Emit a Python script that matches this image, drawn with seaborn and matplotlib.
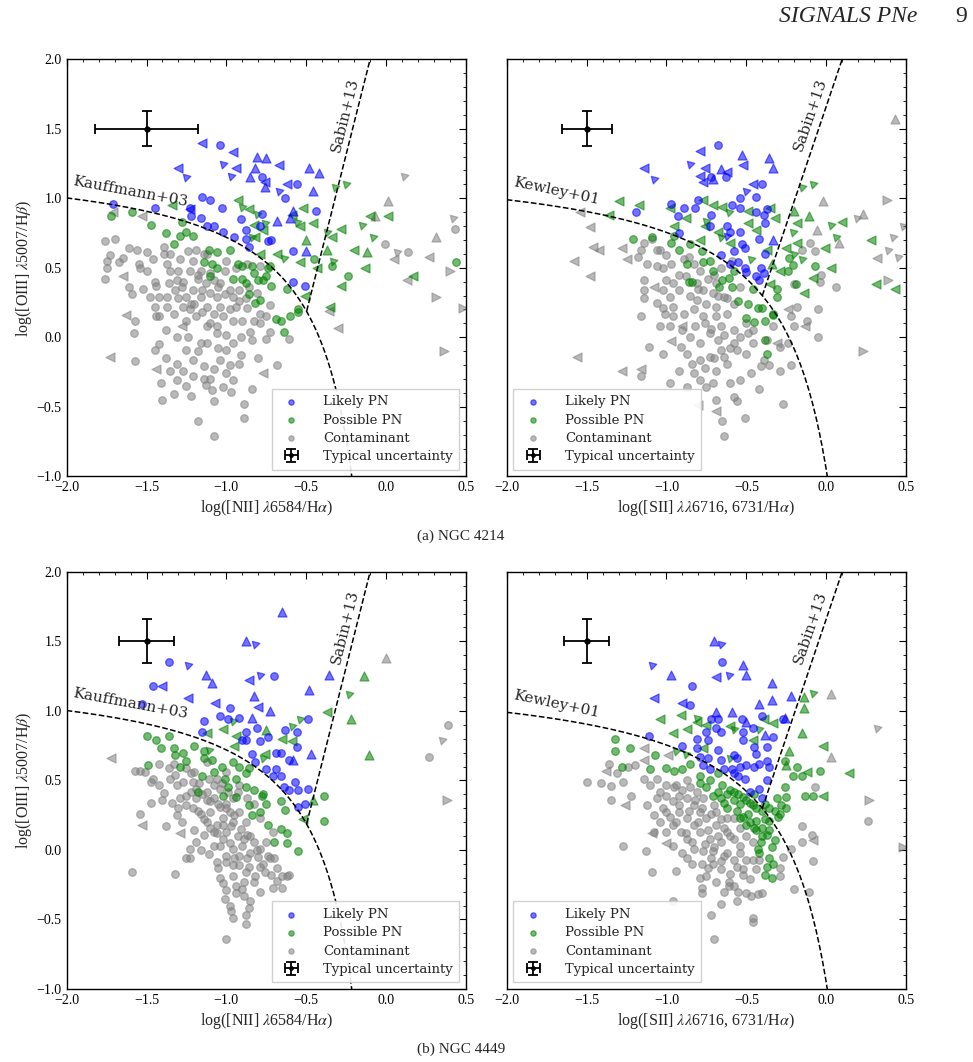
""" BPT-style diagnostic diagrams for the SIGNALS PN candidates in NGC 4214 and NGC 4449."""
import matplotlib
matplotlib.use("Agg")
import matplotlib.pyplot as plt
import numpy as np
import pandas as pd
import seaborn as sns

# ---------------------------------------------------------------------------
# data: (x, y, marker)
# marker: "o" detection, "<" / ">" / "^" limits, "ul" limit in both (up-left)
# ---------------------------------------------------------------------------

# NGC 4214, [NII] diagram
A_NII_LIKELY = [
    (-1.04, 1.38, "o"), (-0.56, 1.10, "o"), (-0.78, 1.15, "o"), (-0.63, 1.00, "o"),
    (-0.44, 0.91, "o"), (-1.71, 0.96, "o"), (-1.45, 0.93, "o"), (-1.15, 1.01, "o"),
    (-1.10, 0.99, "o"), (-1.23, 0.93, "o"), (-1.22, 0.87, "o"), (-1.16, 0.86, "o"),
    (-1.03, 0.93, "o"), (-1.12, 0.80, "o"), (-1.08, 0.80, "o"), (-1.02, 0.76, "o"),
    (-0.91, 0.85, "o"), (-0.95, 0.72, "o"), (-0.88, 0.77, "o"), (-0.88, 0.71, "o"),
    (-0.86, 0.65, "o"), (-0.79, 0.80, "o"), (-0.78, 0.89, "o"), (-0.74, 0.69, "o"),
    (-0.72, 0.70, "o"), (-0.58, 0.62, "o"), (-0.58, 0.40, "o"), (-0.51, 0.37, "o"),
    (-0.81, 1.30, "^"), (-0.75, 1.29, "^"), (-0.82, 1.22, "^"), (-0.85, 1.15, "^"),
    (-0.76, 1.08, "^"), (-0.48, 1.22, "^"), (-0.42, 1.18, "^"), (-0.46, 1.05, "^"),
    (-0.68, 0.84, "^"), (-0.58, 0.91, "^"), (-0.60, 0.86, "^"), (-0.50, 0.62, "^"),
    (-1.15, 1.40, "<"), (-0.96, 1.33, "<"), (-0.67, 1.24, "<"), (-1.30, 1.22, "<"),
    (-0.94, 1.22, "<"), (-0.62, 1.10, "<"), (-0.76, 1.12, "<"), (-1.23, 0.92, "<"),
    (-1.02, 1.25, "ul"), (-1.25, 1.15, "ul"), (-0.67, 1.05, "ul"), (-0.97, 1.16, "ul"),
]
A_NII_POSSIBLE = [
    (-1.72, 0.87, "o"), (-1.59, 0.90, "o"), (-1.47, 0.81, "o"), (-1.38, 0.75, "o"),
    (-1.33, 0.67, "o"), (-1.29, 0.73, "o"), (-1.28, 0.83, "o"), (-1.25, 0.76, "o"),
    (-1.21, 0.73, "o"), (-1.14, 0.54, "o"), (-1.11, 0.63, "o"), (-1.06, 0.61, "o"),
    (-0.98, 0.63, "o"), (-1.09, 0.53, "o"), (-1.06, 0.50, "o"), (-0.93, 0.53, "o"),
    (-1.10, 0.44, "o"), (-0.90, 0.51, "o"), (-0.84, 0.51, "o"), (-0.96, 0.42, "o"),
    (-0.90, 0.42, "o"), (-0.88, 0.39, "o"), (-0.83, 0.46, "o"), (-0.80, 0.41, "o"),
    (-0.77, 0.41, "o"), (-0.75, 0.44, "o"), (-0.73, 0.51, "o"), (-0.86, 0.31, "o"),
    (-0.82, 0.25, "o"), (-0.79, 0.27, "o"), (-0.72, 0.37, "o"), (-0.62, 0.35, "o"),
    (-0.69, 0.13, "o"), (-0.66, 0.12, "o"), (-0.60, 0.15, "o"), (-0.55, 0.18, "o"),
    (-0.55, 0.20, "o"), (-0.64, 0.04, "o"), (-0.34, 0.51, "o"), (-0.24, 0.44, "o"),
    (0.44, 0.54, "o"), (-0.74, 0.50, "o"), (-0.45, 0.56, "o"),
    (-0.93, 0.99, "<"), (-0.86, 0.92, "<"), (-0.52, 0.93, "<"), (-0.46, 0.82, "<"),
    (-0.83, 0.81, "<"), (-0.77, 0.77, "<"), (-0.54, 0.80, "<"), (-0.28, 0.78, "<"),
    (-0.10, 0.87, "<"), (0.01, 0.87, "<"), (-0.20, 0.63, "<"), (-0.34, 0.72, "<"),
    (-0.13, 0.50, "<"), (-0.43, 0.50, "<"), (-0.54, 0.54, "<"), (-0.68, 0.60, "<"),
    (-0.28, 0.37, "<"), (0.17, 0.44, "<"), (-0.35, 0.22, "<"), (-0.51, 0.30, "<"),
    (-0.79, 0.60, "<"), (-1.34, 0.95, "<"), (-0.82, 0.72, "<"), (-0.59, 0.88, "<"),
    (-0.12, 0.61, "^"), (-0.50, 0.70, "^"), (-0.37, 0.63, "^"),
    (-0.32, 1.08, "ul"), (-0.25, 1.10, "ul"), (-0.90, 0.94, "ul"), (-0.76, 0.82, "ul"),
    (-0.56, 0.83, "ul"), (-0.37, 0.76, "ul"), (-0.15, 0.81, "ul"), (-0.08, 0.72, "ul"),
    (-0.33, 0.55, "ul"), (-0.64, 0.57, "ul"), (-0.81, 0.89, "ul"), (-0.84, 0.72, "ul"),
]
A_NII_CONTAM = [
    (-1.71, 0.90, "<"), (-1.53, 0.87, "<"), (-1.65, 0.44, "<"), (-1.63, 0.16, "<"),
    (-1.73, -0.14, "<"), (-1.44, -0.23, "<"), (-0.77, -0.26, "<"), (-1.28, 0.08, "<"),
    (-0.30, 0.07, "<"), (-0.36, 0.19, "<"), (0.05, 0.56, "<"), (0.13, 0.41, "<"),
    (0.27, 0.58, "<"),
    (0.31, 0.29, ">"), (0.36, -0.10, ">"), (0.40, 0.48, ">"), (0.48, 0.21, ">"),
    (0.01, 0.98, "^"), (0.31, 0.72, "^"), (-0.07, 0.87, "^"),
    (0.11, 1.16, "ul"), (0.42, 0.86, "ul"), (0.07, 0.61, "ul"),
    (0.43, 0.78, "o"), (-0.01, 0.67, "o"), (0.14, 0.61, "o"),
    (-1.76, 0.69, "o"), (-1.70, 0.71, "o"), (-1.73, 0.59, "o"), (-1.75, 0.55, "o"),
    (-1.76, 0.42, "o"), (-1.75, 0.50, "o"), (-1.67, 0.54, "o"), (-1.65, 0.57, "o"),
    (-1.61, 0.64, "o"), (-1.56, 0.63, "o"), (-1.50, 0.61, "o"), (-1.55, 0.53, "o"),
    (-1.54, 0.50, "o"), (-1.61, 0.36, "o"), (-1.59, 0.31, "o"), (-1.52, 0.35, "o"),
    (-1.45, 0.40, "o"), (-1.44, 0.37, "o"), (-1.42, 0.29, "o"), (-1.44, 0.15, "o"),
    (-1.57, 0.12, "o"), (-1.58, 0.03, "o"), (-1.57, -0.17, "o"), (-1.42, -0.05, "o"),
    (-1.45, -0.09, "o"), (-1.38, -0.15, "o"), (-1.41, -0.33, "o"), (-1.40, -0.45, "o"),
    (-1.33, -0.41, "o"), (-1.22, -0.42, "o"), (-1.18, -0.60, "o"), (-1.08, -0.71, "o"),
    (-1.08, -0.46, "o"), (-1.09, -0.38, "o"), (-1.02, -0.36, "o"), (-0.97, -0.39, "o"),
    (-0.89, -0.48, "o"), (-0.89, -0.58, "o"), (-0.84, -0.37, "o"), (-0.68, -0.20, "o"),
    (-0.80, -0.15, "o"), (-0.75, -0.01, "o"), (-0.73, 0.04, "o"), (-0.85, 0.04, "o"),
    (-0.90, 0.12, "o"), (-0.79, 0.10, "o"), (-0.73, 0.23, "o"), (-0.79, 0.17, "o"),
    (-0.75, 0.15, "o"), (-0.61, -0.01, "o"), (-0.87, 0.21, "o"), (-0.94, 0.22, "o"),
    (-0.96, 0.29, "o"), (-1.01, 0.31, "o"), (-0.98, 0.34, "o"), (-1.04, 0.39, "o"),
    (-1.08, 0.41, "o"), (-1.13, 0.39, "o"), (-1.18, 0.42, "o"), (-1.23, 0.48, "o"),
    (-1.27, 0.40, "o"), (-1.31, 0.41, "o"), (-1.35, 0.48, "o"), (-1.39, 0.60, "o"),
    (-1.35, 0.60, "o"), (-1.29, 0.56, "o"), (-1.24, 0.62, "o"), (-1.19, 0.63, "o"),
    (-1.14, 0.60, "o"), (-1.21, 0.55, "o"), (-1.30, 0.48, "o"), (-1.32, 0.34, "o"),
    (-1.25, 0.29, "o"), (-1.21, 0.34, "o"), (-1.16, 0.29, "o"), (-1.12, 0.22, "o"),
    (-1.08, 0.17, "o"), (-1.02, 0.15, "o"), (-0.96, 0.12, "o"), (-1.06, 0.08, "o"),
    (-1.12, 0.08, "o"), (-1.19, 0.15, "o"), (-1.23, 0.20, "o"), (-1.27, 0.22, "o"),
    (-1.33, 0.17, "o"), (-1.37, 0.22, "o"), (-1.42, 0.15, "o"), (-1.31, 0.00, "o"),
    (-1.24, 0.00, "o"), (-1.16, -0.04, "o"), (-1.12, -0.04, "o"), (-1.06, 0.03, "o"),
    (-1.00, 0.02, "o"), (-0.96, -0.04, "o"), (-1.00, -0.09, "o"), (-1.04, -0.16, "o"),
    (-1.08, -0.23, "o"), (-1.14, -0.21, "o"), (-1.21, -0.16, "o"), (-1.25, -0.09, "o"),
    (-1.31, -0.19, "o"), (-1.27, -0.24, "o"), (-1.35, -0.24, "o"), (-1.31, -0.31, "o"),
    (-1.21, -0.28, "o"), (-1.14, -0.30, "o"), (-1.00, -0.26, "o"), (-0.92, -0.19, "o"),
    (-0.91, -0.13, "o"), (-0.98, -0.20, "o"), (-0.84, -0.02, "o"), (-0.91, 0.00, "o"),
    (-0.83, 0.12, "o"), (-1.39, 0.65, "o"), (-1.46, 0.56, "o"), (-1.50, 0.48, "o"),
    (-1.37, 0.53, "o"), (-1.36, 0.39, "o"), (-1.48, 0.29, "o"), (-1.37, 0.29, "o"),
    (-0.92, 0.34, "o"), (-0.86, 0.36, "o"), (-0.81, 0.32, "o"), (-1.04, 0.22, "o"),
    (-1.10, 0.32, "o"), (-1.16, 0.48, "o"), (-1.06, 0.29, "o"), (-1.12, 0.60, "o"),
    (-1.00, 0.55, "o"), (-0.94, 0.50, "o"), (-0.87, 0.53, "o"), (-0.79, 0.51, "o"),
    (-1.01, 0.48, "o"), (-1.22, 0.24, "o"), (-1.13, -0.34, "o"), (-0.96, -0.31, "o"),
    (-1.18, 0.45, "o"), (-1.10, 0.46, "o"), (-1.05, 0.36, "o"), (-1.15, 0.34, "o"),
    (-1.20, 0.24, "o"), (-1.15, 0.18, "o"), (-1.10, 0.10, "o"), (-1.25, 0.12, "o"),
    (-1.30, 0.28, "o"), (-1.28, 0.36, "o"), (-0.98, 0.20, "o"), (-0.92, 0.26, "o"),
    (-1.18, -0.10, "o"), (-1.05, -0.08, "o"), (-1.10, -0.30, "o"), (-1.25, -0.35, "o"),
    (-1.38, 0.05, "o"), (-1.45, 0.22, "o"), (-0.88, 0.28, "o"),
]

# NGC 4214, [SII] diagram
A_SII_LIKELY = [
    (-0.68, 1.38, "o"), (-0.63, 1.15, "o"), (-0.72, 1.15, "o"), (-0.40, 1.10, "o"),
    (-0.44, 1.01, "o"), (-0.54, 1.00, "o"), (-0.54, 0.93, "o"), (-0.59, 0.95, "o"),
    (-0.80, 0.99, "o"), (-0.82, 0.93, "o"), (-0.89, 0.93, "o"), (-0.97, 0.96, "o"),
    (-0.93, 0.87, "o"), (-1.19, 0.90, "o"), (-0.72, 0.88, "o"), (-0.73, 0.80, "o"),
    (-0.62, 0.80, "o"), (-0.60, 0.76, "o"), (-0.54, 0.76, "o"), (-0.44, 0.90, "o"),
    (-0.39, 0.88, "o"), (-0.37, 0.92, "o"), (-0.38, 0.82, "o"), (-0.42, 0.71, "o"),
    (-0.38, 0.60, "o"), (-0.53, 0.67, "o"), (-0.58, 0.62, "o"), (-0.51, 0.64, "o"),
    (-0.55, 0.54, "o"), (-0.60, 0.53, "o"), (-0.66, 0.59, "o"), (-0.92, 0.75, "o"),
    (-0.51, 0.50, "o"), (-0.41, 0.50, "o"), (-0.44, 0.44, "o"), (-0.42, 0.41, "o"),
    (-0.50, 0.47, "o"), (-0.39, 0.46, "o"),
    (-0.79, 1.34, "<"), (-1.14, 1.22, "<"), (-0.76, 1.22, "<"), (-0.79, 1.16, "<"),
    (-0.52, 1.24, "<"), (-0.46, 1.10, "<"), (-0.62, 1.19, "<"), (-0.77, 1.12, "<"),
    (-0.53, 1.31, "^"), (-0.36, 1.29, "^"), (-0.33, 1.22, "^"), (-0.66, 1.21, "^"),
    (-0.71, 1.14, "^"), (-0.33, 0.70, "^"),
    (-0.85, 1.25, "ul"), (-1.08, 1.14, "ul"), (-0.50, 1.05, "ul"), (-0.62, 0.73, "ul"),
]
A_SII_POSSIBLE = [
    (-1.21, 0.71, "o"), (-1.09, 0.72, "o"), (-0.95, 0.73, "o"), (-0.97, 0.68, "o"),
    (-0.92, 0.63, "o"), (-0.85, 0.67, "o"), (-0.78, 0.62, "o"), (-0.73, 0.55, "o"),
    (-0.77, 0.54, "o"), (-0.71, 0.48, "o"), (-0.65, 0.41, "o"), (-0.59, 0.36, "o"),
    (-0.61, 0.43, "o"), (-0.67, 0.36, "o"), (-0.86, 0.40, "o"), (-0.84, 0.40, "o"),
    (-0.55, 0.26, "o"), (-0.49, 0.24, "o"), (-0.43, 0.21, "o"), (-0.40, 0.21, "o"),
    (-0.50, 0.14, "o"), (-0.45, 0.11, "o"), (-0.38, 0.12, "o"), (-0.33, 0.16, "o"),
    (-0.38, -0.02, "o"), (-0.37, -0.12, "o"), (-0.31, 0.35, "o"), (-0.31, 0.29, "o"),
    (-0.33, 0.17, "o"), (-0.24, 0.48, "o"), (-0.23, 0.57, "o"), (-0.21, 0.52, "o"),
    (-0.07, 0.51, "o"), (-0.19, 0.38, "o"), (-0.58, 0.48, "o"), (-0.46, 0.35, "o"),
    (-0.87, 0.53, "o"),
    (-1.30, 0.98, "<"), (-1.17, 0.95, "<"), (-0.98, 0.93, "<"), (-0.71, 0.95, "<"),
    (-0.65, 0.94, "<"), (-0.49, 0.91, "<"), (-0.35, 0.93, "<"), (-0.77, 0.99, "<"),
    (-0.95, 0.80, "<"), (-0.88, 0.86, "<"), (-0.76, 0.80, "<"), (-0.68, 0.76, "<"),
    (-0.49, 0.82, "<"), (-0.44, 0.77, "<"), (-0.32, 0.86, "<"), (-0.25, 0.64, "<"),
    (-0.18, 0.82, "<"), (-0.18, 0.68, "<"), (-0.01, 0.64, "<"), (-0.08, 0.43, "<"),
    (-0.14, 0.32, "<"), (0.03, 0.50, "<"), (0.10, 0.83, "<"), (0.28, 0.70, "<"),
    (0.31, 0.38, "<"), (0.43, 0.35, "<"), (-1.36, 0.88, "<"), (-0.79, 0.70, "<"),
    (-0.60, 0.68, "<"), (-0.37, 0.63, "<"), (-0.29, 0.48, "<"), (-0.35, 0.38, "<"),
    (-0.20, 0.91, "^"), (-0.11, 0.87, "^"), (-0.34, 0.53, "^"),
    (-0.15, 1.08, "ul"), (-0.08, 1.10, "ul"), (0.03, 0.81, "ul"), (0.06, 0.72, "ul"),
    (-0.61, 0.90, "ul"), (-0.75, 0.84, "ul"), (-0.21, 0.76, "ul"), (-0.20, 0.60, "ul"),
    (-0.15, 0.56, "ul"), (-0.47, 0.56, "ul"), (-0.66, 0.72, "ul"),
]
A_SII_CONTAM = [
    (-1.58, 0.55, "<"), (-1.48, 0.79, "<"), (-1.48, 0.44, "<"), (-1.46, 0.65, "<"),
    (-1.42, 0.63, "<"), (-1.28, 0.64, "<"), (-1.25, 0.56, "<"), (-1.08, 0.36, "<"),
    (-1.56, -0.14, "<"), (-1.28, -0.24, "<"), (-1.16, -0.23, "<"), (-0.97, -0.03, "<"),
    (-0.90, 0.08, "<"), (-0.80, -0.49, "<"), (-0.69, -0.53, "<"), (-0.31, -0.04, "<"),
    (-0.24, 0.20, "<"), (-0.13, 0.08, "<"), (-1.54, 0.90, "<"), (0.32, 0.57, "<"),
    (-0.02, 0.98, "^"), (-0.06, 0.77, "^"), (0.08, 0.68, "^"), (0.43, 1.57, "^"),
    (0.23, 0.89, "^"),
    (0.38, 0.99, ">"), (0.39, 0.41, ">"), (0.23, -0.10, ">"),
    (0.19, 0.86, "ul"), (0.42, 0.72, "ul"), (0.39, 0.63, "ul"), (0.45, 0.58, "ul"),
    (0.48, 0.80, "ul"),
    (-1.14, 0.68, "o"), (-1.16, 0.63, "o"), (-1.12, 0.53, "o"), (-1.06, 0.51, "o"),
    (-1.14, 0.41, "o"), (-1.14, 0.34, "o"), (-1.14, 0.28, "o"), (-1.16, 0.15, "o"),
    (-1.04, 0.63, "o"), (-1.00, 0.59, "o"), (-0.97, 0.53, "o"), (-1.02, 0.50, "o"),
    (-1.00, 0.41, "o"), (-0.96, 0.39, "o"), (-1.02, 0.34, "o"), (-0.98, 0.29, "o"),
    (-0.92, 0.34, "o"), (-0.88, 0.44, "o"), (-0.83, 0.53, "o"), (-0.89, 0.56, "o"),
    (-0.79, 0.48, "o"), (-0.81, 0.39, "o"), (-0.77, 0.34, "o"), (-0.81, 0.27, "o"),
    (-0.75, 0.24, "o"), (-0.69, 0.22, "o"), (-0.71, 0.32, "o"), (-0.64, 0.29, "o"),
    (-0.58, 0.24, "o"), (-0.62, 0.17, "o"), (-0.69, 0.15, "o"), (-0.77, 0.15, "o"),
    (-0.83, 0.20, "o"), (-0.89, 0.17, "o"), (-0.96, 0.15, "o"), (-1.01, 0.17, "o"),
    (-1.02, 0.21, "o"), (-1.04, 0.08, "o"), (-0.98, 0.08, "o"), (-0.90, 0.05, "o"),
    (-0.85, 0.00, "o"), (-0.79, -0.04, "o"), (-0.73, 0.03, "o"), (-0.66, 0.08, "o"),
    (-0.58, 0.05, "o"), (-0.54, 0.00, "o"), (-0.49, 0.03, "o"), (-0.46, 0.05, "o"),
    (-0.58, -0.04, "o"), (-0.66, -0.09, "o"), (-0.73, -0.14, "o"), (-0.79, -0.16, "o"),
    (-0.84, -0.19, "o"), (-0.87, -0.12, "o"), (-0.91, -0.07, "o"), (-0.83, -0.26, "o"),
    (-0.79, -0.31, "o"), (-0.75, -0.36, "o"), (-0.69, -0.45, "o"), (-0.65, -0.60, "o"),
    (-0.64, -0.71, "o"), (-0.51, -0.58, "o"), (-0.58, -0.43, "o"), (-0.56, -0.46, "o"),
    (-0.60, -0.33, "o"), (-0.54, -0.31, "o"), (-0.47, -0.26, "o"), (-0.42, -0.37, "o"),
    (-0.41, -0.21, "o"), (-0.39, -0.16, "o"), (-0.36, -0.20, "o"), (-0.29, -0.24, "o"),
    (-0.22, -0.20, "o"), (-0.27, -0.48, "o"), (-0.98, -0.33, "o"), (-1.16, -0.28, "o"),
    (-1.11, -0.07, "o"), (-1.02, -0.12, "o"), (-0.50, -0.12, "o"), (-0.46, -0.04, "o"),
    (-0.56, -0.09, "o"), (-0.62, -0.19, "o"), (-0.69, -0.24, "o"), (-0.71, -0.33, "o"),
    (-0.37, -0.02, "o"), (-0.29, -0.07, "o"), (-0.24, -0.04, "o"), (-0.20, 0.08, "o"),
    (-0.18, 0.22, "o"), (-0.12, 0.12, "o"), (-0.05, 0.20, "o"), (-0.05, 0.00, "o"),
    (-0.20, 0.38, "o"), (-0.04, 0.40, "o"), (0.06, 0.36, "o"), (-0.03, 0.45, "o"),
    (-0.15, 0.63, "o"), (-0.07, 0.62, "o"), (-0.10, 0.68, "o"), (-0.69, 0.39, "o"),
    (-0.54, 0.36, "o"), (-0.59, 0.55, "o"), (-1.06, 0.25, "o"), (-0.96, 0.22, "o"),
    (-0.50, 0.10, "o"), (-0.33, 0.08, "o"), (-0.22, 0.15, "o"), (-0.87, -0.36, "o"),
    (-0.92, -0.24, "o"), (-1.06, 0.63, "o"), (-1.18, 0.58, "o"), (-1.09, 0.71, "o"),
    (-0.85, 0.30, "o"), (-0.80, 0.35, "o"), (-0.74, 0.42, "o"), (-0.68, 0.30, "o"),
    (-0.62, 0.28, "o"), (-0.66, 0.50, "o"), (-0.70, 0.45, "o"), (-0.92, 0.45, "o"),
    (-0.86, 0.58, "o"), (-0.76, 0.10, "o"), (-0.72, 0.06, "o"), (-0.64, 0.02, "o"),
    (-0.82, 0.08, "o"), (-0.68, -0.02, "o"), (-0.70, -0.15, "o"), (-0.76, -0.22, "o"),
    (-0.64, -0.14, "o"), (-0.60, -0.08, "o"),
]

# NGC 4449, [NII] diagram
B_NII_LIKELY = [
    (-1.36, 1.35, "o"), (-1.46, 1.18, "o"), (-1.53, 1.05, "o"), (-0.70, 1.25, "o"),
    (-0.98, 1.02, "o"), (-1.14, 0.93, "o"), (-1.15, 0.85, "o"), (-1.04, 0.96, "o"),
    (-0.99, 0.94, "o"), (-0.92, 0.95, "o"), (-0.88, 0.85, "o"), (-0.81, 0.88, "o"),
    (-0.90, 0.79, "o"), (-0.88, 0.79, "o"), (-0.79, 0.78, "o"), (-0.74, 0.81, "o"),
    (-0.63, 0.86, "o"), (-0.56, 0.85, "o"), (-0.49, 0.94, "o"), (-0.56, 0.74, "o"),
    (-0.69, 0.70, "o"), (-0.66, 0.70, "o"), (-0.61, 0.65, "o"), (-0.84, 0.69, "o"),
    (-0.82, 0.63, "o"), (-0.75, 0.58, "o"), (-0.69, 0.58, "o"), (-0.71, 0.53, "o"),
    (-0.66, 0.53, "o"), (-0.64, 0.45, "o"), (-0.61, 0.43, "o"), (-0.57, 0.49, "o"),
    (-0.55, 0.43, "o"), (-0.49, 0.44, "o"), (-0.55, 0.31, "o"), (-0.51, 0.33, "o"),
    (-0.65, 1.71, "^"), (-0.88, 1.50, "^"), (-1.13, 1.26, "^"), (-1.09, 1.20, "^"),
    (-0.83, 1.11, "^"), (-0.73, 1.00, "^"), (-0.84, 0.95, "^"), (-0.48, 1.15, "^"),
    (-0.36, 1.26, "^"), (-0.47, 0.69, "^"), (-0.58, 0.65, "^"),
    (-1.40, 1.18, "<"), (-1.24, 1.09, "<"), (-1.07, 1.06, "<"), (-0.86, 1.22, "<"),
    (-0.80, 1.03, "<"),
    (-0.82, 1.48, "ul"), (-1.24, 1.33, "ul"), (-0.79, 1.26, "ul"),
]
B_NII_POSSIBLE = [
    (-1.50, 0.82, "o"), (-1.44, 0.79, "o"), (-1.41, 0.73, "o"), (-1.36, 0.82, "o"),
    (-1.33, 0.73, "o"), (-1.32, 0.68, "o"), (-1.27, 0.70, "o"), (-1.25, 0.64, "o"),
    (-1.20, 0.75, "o"), (-1.29, 0.60, "o"), (-1.14, 0.71, "o"), (-1.14, 0.66, "o"),
    (-1.09, 0.65, "o"), (-1.08, 0.56, "o"), (-1.03, 0.60, "o"), (-1.01, 0.51, "o"),
    (-0.96, 0.63, "o"), (-0.92, 0.60, "o"), (-0.86, 0.59, "o"), (-0.88, 0.55, "o"),
    (-0.99, 0.45, "o"), (-0.94, 0.38, "o"), (-1.02, 0.39, "o"), (-1.15, 0.53, "o"),
    (-1.18, 0.42, "o"), (-0.88, 0.45, "o"), (-0.83, 0.43, "o"), (-0.78, 0.39, "o"),
    (-0.77, 0.40, "o"), (-0.75, 0.33, "o"), (-0.79, 0.27, "o"), (-0.84, 0.25, "o"),
    (-0.74, 0.18, "o"), (-0.66, 0.15, "o"), (-0.62, 0.12, "o"), (-0.70, 0.06, "o"),
    (-0.62, 0.05, "o"), (-0.55, -0.01, "o"), (-0.66, 0.35, "o"), (-0.63, 0.29, "o"),
    (-0.39, 0.39, "o"), (-0.39, 0.21, "o"), (-1.49, 0.61, "o"), (-0.86, 0.32, "o"),
    (-0.94, 0.51, "o"),
    (-1.12, 0.84, "<"), (-1.02, 0.87, "<"), (-0.94, 0.82, "<"), (-0.65, 0.80, "<"),
    (-0.59, 0.78, "<"), (-0.37, 0.99, "<"), (-0.76, 0.69, "<"), (-0.52, 0.22, "<"),
    (-0.95, 0.75, "<"),
    (-0.14, 1.25, "^"), (-0.22, 0.94, "^"), (-0.11, 0.68, "^"), (-0.46, 0.36, "^"),
    (-0.75, 0.86, "^"),
    (-0.23, 1.12, "ul"), (-0.54, 0.94, "ul"), (-0.59, 0.89, "ul"), (-0.96, 0.93, "ul"),
    (-1.11, 0.72, "ul"), (-0.77, 0.66, "ul"),
]
B_NII_CONTAM = [
    (-1.72, 0.66, "<"), (-1.53, 0.18, "<"), (-1.29, 0.12, "<"),
    (0.00, 1.38, "^"), (0.35, 0.79, "ul"), (0.38, 0.36, ">"),
    (0.39, 0.90, "o"), (0.27, 0.67, "o"), (-1.59, -0.16, "o"), (-1.32, -0.17, "o"),
    (-1.00, -0.64, "o"), (-0.96, -0.49, "o"), (-0.88, -0.53, "o"), (-0.88, -0.47, "o"),
    (-0.98, -0.40, "o"), (-1.01, -0.35, "o"), (-1.00, -0.29, "o"), (-0.94, -0.31, "o"),
    (-0.89, -0.33, "o"), (-0.85, -0.37, "o"), (-0.79, -0.30, "o"), (-0.71, -0.27, "o"),
    (-0.65, -0.27, "o"), (-0.72, -0.18, "o"), (-0.65, -0.19, "o"), (-0.61, -0.18, "o"),
    (-0.68, -0.13, "o"), (-0.79, -0.12, "o"), (-0.82, -0.19, "o"), (-0.88, -0.16, "o"),
    (-0.96, -0.19, "o"), (-1.05, -0.13, "o"), (-1.04, -0.20, "o"), (-1.11, -0.03, "o"),
    (-1.23, 0.01, "o"), (-1.25, -0.06, "o"), (-1.54, 0.26, "o"), (-1.47, 0.34, "o"),
    (-1.38, 0.17, "o"), (-1.31, 0.25, "o"), (-1.34, 0.34, "o"), (-1.20, 0.14, "o"),
    (-1.14, 0.11, "o"), (-1.12, 0.20, "o"), (-1.06, 0.18, "o"), (-1.00, 0.13, "o"),
    (-0.96, 0.20, "o"), (-0.91, 0.15, "o"), (-0.87, 0.11, "o"), (-0.83, 0.06, "o"),
    (-0.79, 0.01, "o"), (-0.75, 0.06, "o"), (-0.74, -0.04, "o"), (-0.85, -0.02, "o"),
    (-0.92, -0.04, "o"), (-0.96, 0.01, "o"), (-1.00, -0.04, "o"), (-1.04, 0.03, "o"),
    (-1.08, 0.03, "o"), (-1.19, 0.06, "o"), (-1.08, 0.13, "o"), (-1.02, 0.23, "o"),
    (-0.98, 0.27, "o"), (-1.04, 0.31, "o"), (-1.10, 0.27, "o"), (-1.16, 0.26, "o"),
    (-1.21, 0.30, "o"), (-1.25, 0.32, "o"), (-1.29, 0.37, "o"), (-1.25, 0.39, "o"),
    (-1.19, 0.37, "o"), (-1.12, 0.36, "o"), (-1.08, 0.37, "o"), (-1.00, 0.33, "o"),
    (-0.92, 0.27, "o"), (-1.39, 0.41, "o"), (-1.42, 0.47, "o"), (-1.46, 0.51, "o"),
    (-1.35, 0.51, "o"), (-1.31, 0.47, "o"), (-1.27, 0.49, "o"), (-1.21, 0.49, "o"),
    (-1.19, 0.44, "o"), (-1.12, 0.42, "o"), (-1.08, 0.47, "o"), (-1.04, 0.44, "o"),
    (-1.06, 0.51, "o"), (-1.11, 0.51, "o"), (-1.54, 0.57, "o"), (-1.57, 0.57, "o"),
    (-1.51, 0.56, "o"), (-1.47, 0.49, "o"), (-1.36, 0.59, "o"), (-1.32, 0.54, "o"),
    (-1.22, 0.55, "o"), (-1.25, 0.59, "o"), (-1.42, 0.62, "o"), (-1.33, 0.62, "o"),
    (-1.12, 0.63, "o"), (-0.92, 0.47, "o"), (-0.96, 0.37, "o"), (-0.87, 0.37, "o"),
    (-0.83, 0.33, "o"), (-0.79, 0.23, "o"), (-0.71, 0.13, "o"), (-0.89, 0.08, "o"),
    (-1.00, -0.09, "o"), (-0.96, -0.11, "o"), (-0.92, -0.11, "o"), (-0.87, -0.06, "o"),
    (-0.77, -0.10, "o"), (-0.73, -0.06, "o"), (-1.06, -0.09, "o"), (-0.89, -0.23, "o"),
    (-0.83, -0.23, "o"), (-1.02, -0.24, "o"), (-0.62, -0.19, "o"), (-1.23, -0.06, "o"),
    (-1.15, 0.40, "o"), (-1.10, 0.35, "o"), (-1.05, 0.33, "o"), (-1.00, 0.30, "o"),
    (-0.95, 0.25, "o"), (-0.97, 0.17, "o"), (-0.93, 0.10, "o"), (-0.90, 0.03, "o"),
    (-0.85, 0.10, "o"), (-0.81, 0.00, "o"), (-0.95, -0.06, "o"), (-0.98, 0.05, "o"),
    (-1.02, 0.08, "o"), (-1.06, 0.12, "o"), (-1.10, 0.16, "o"), (-1.14, 0.22, "o"),
    (-1.18, 0.28, "o"), (-1.22, 0.42, "o"), (-1.17, 0.48, "o"), (-1.03, 0.48, "o"),
    (-0.99, 0.42, "o"), (-1.02, 0.18, "o"), (-0.88, 0.20, "o"), (-0.86, -0.12, "o"),
    (-0.80, -0.05, "o"), (-0.76, -0.16, "o"), (-0.94, -0.26, "o"), (-0.90, -0.28, "o"),
    (-0.97, -0.44, "o"), (-0.86, -0.42, "o"), (-0.70, -0.06, "o"), (-0.68, -0.22, "o"),
    (-1.30, 0.30, "o"), (-1.40, 0.36, "o"), (-1.28, 0.20, "o"), (-1.16, 0.00, "o"),
    (-1.20, 0.56, "o"), (-1.00, 0.56, "o"), (-0.93, 0.42, "o"),
]

# NGC 4449, [SII] diagram
B_SII_LIKELY = [
    (-0.65, 1.35, "o"), (-0.84, 1.18, "o"), (-0.85, 1.04, "o"), (-0.68, 0.94, "o"),
    (-0.72, 0.94, "o"), (-0.69, 0.88, "o"), (-0.75, 0.85, "o"), (-0.81, 0.80, "o"),
    (-0.74, 0.79, "o"), (-0.66, 0.85, "o"), (-0.53, 0.94, "o"), (-0.52, 0.85, "o"),
    (-0.46, 0.88, "o"), (-0.40, 0.96, "o"), (-0.27, 0.94, "o"), (-0.33, 0.81, "o"),
    (-0.37, 0.74, "o"), (-0.45, 0.74, "o"), (-0.52, 0.79, "o"), (-0.81, 0.73, "o"),
    (-0.90, 0.75, "o"), (-1.11, 0.82, "o"), (-0.79, 0.67, "o"), (-0.74, 0.66, "o"),
    (-0.68, 0.72, "o"), (-0.66, 0.65, "o"), (-0.58, 0.68, "o"), (-0.56, 0.66, "o"),
    (-0.50, 0.61, "o"), (-0.44, 0.69, "o"), (-0.42, 0.62, "o"), (-0.37, 0.64, "o"),
    (-0.36, 0.60, "o"), (-0.45, 0.60, "o"), (-0.54, 0.60, "o"), (-0.59, 0.58, "o"),
    (-0.64, 0.58, "o"), (-0.58, 0.55, "o"), (-0.55, 0.53, "o"), (-0.51, 0.51, "o"),
    (-0.48, 0.42, "o"), (-0.42, 0.44, "o"), (-0.37, 0.50, "o"), (-0.40, 0.37, "o"),
    (-0.73, 0.58, "o"), (-0.77, 0.61, "o"),
    (-0.70, 1.50, "^"), (-0.97, 1.26, "^"), (-0.69, 0.99, "^"), (-0.59, 0.99, "^"),
    (-0.52, 1.33, "^"), (-0.50, 1.26, "^"), (-0.42, 1.05, "^"), (-0.34, 1.20, "^"),
    (-0.34, 1.08, "^"), (-0.22, 1.11, "^"), (-0.26, 0.95, "^"), (-0.38, 0.83, "^"),
    (-0.50, 0.92, "^"),
    (-1.08, 1.09, "<"), (-0.90, 1.06, "<"), (-0.69, 1.24, "<"),
    (-1.09, 1.33, "ul"), (-0.66, 1.48, "ul"), (-0.61, 1.26, "ul"),
]
B_SII_POSSIBLE = [
    (-1.32, 0.80, "o"), (-1.32, 0.71, "o"), (-1.23, 0.73, "o"), (-1.28, 0.60, "o"),
    (-1.10, 0.58, "o"), (-1.07, 0.68, "o"), (-1.00, 0.59, "o"), (-0.95, 0.57, "o"),
    (-0.90, 0.58, "o"), (-0.85, 0.62, "o"), (-0.79, 0.53, "o"), (-0.79, 0.48, "o"),
    (-0.73, 0.50, "o"), (-0.75, 0.45, "o"), (-0.68, 0.55, "o"), (-0.65, 0.47, "o"),
    (-0.60, 0.43, "o"), (-0.55, 0.40, "o"), (-0.58, 0.36, "o"), (-0.54, 0.33, "o"),
    (-0.50, 0.36, "o"), (-0.46, 0.32, "o"), (-0.62, 0.30, "o"), (-0.66, 0.37, "o"),
    (-0.71, 0.39, "o"), (-0.49, 0.26, "o"), (-0.44, 0.21, "o"), (-0.40, 0.16, "o"),
    (-0.36, 0.21, "o"), (-0.32, 0.28, "o"), (-0.29, 0.26, "o"), (-0.25, 0.30, "o"),
    (-0.37, 0.11, "o"), (-0.41, 0.06, "o"), (-0.43, 0.01, "o"), (-0.45, 0.16, "o"),
    (-0.36, -0.06, "o"), (-0.37, -0.12, "o"), (-0.38, -0.18, "o"), (-0.34, -0.20, "o"),
    (-0.32, 0.07, "o"), (-0.26, 0.45, "o"), (-0.25, 0.38, "o"), (-0.18, 0.60, "o"),
    (-0.21, 0.53, "o"), (-0.15, 0.53, "o"), (-0.04, 0.57, "o"), (-0.13, 0.39, "o"),
    (-0.08, 0.39, "o"), (-0.26, 0.64, "o"), (-0.31, 0.37, "o"), (-0.38, 0.33, "o"),
    (-0.54, 0.23, "o"), (-0.50, 0.18, "o"),
    (-0.62, 0.40, "o"), (-0.58, 0.42, "o"), (-0.52, 0.38, "o"), (-0.48, 0.34, "o"),
    (-0.44, 0.30, "o"), (-0.40, 0.28, "o"), (-0.36, 0.30, "o"), (-0.56, 0.28, "o"),
    (-0.52, 0.24, "o"), (-0.48, 0.20, "o"), (-0.44, 0.14, "o"), (-0.40, 0.10, "o"),
    (-0.36, 0.14, "o"), (-0.34, 0.02, "o"), (-0.42, -0.02, "o"), (-0.30, 0.24, "o"),
    (-0.28, 0.32, "o"), (-0.64, 0.34, "o"), (-0.68, 0.42, "o"), (-0.45, 0.40, "o"),
    (-0.38, 0.22, "o"), (-0.33, -0.10, "o"),
    (-1.04, 0.94, "<"), (-0.96, 0.84, "<"), (-0.91, 0.97, "<"), (-0.87, 0.87, "<"),
    (-0.81, 0.92, "<"), (-0.75, 0.90, "<"), (-0.60, 0.89, "<"), (-0.46, 0.79, "<"),
    (-0.39, 0.94, "<"), (-0.33, 0.91, "<"), (-0.02, 0.75, "<"), (0.14, 0.55, "<"),
    (-0.02, 0.39, "<"), (-0.12, 0.56, "<"), (-0.77, 0.73, "<"),
    (-0.14, 1.10, "^"), (-0.14, 1.02, "^"), (-0.15, 0.84, "^"), (-0.23, 0.71, "^"),
    (-0.25, 0.61, "^"),
    (-0.08, 1.13, "ul"), (-0.81, 0.95, "ul"), (-0.58, 0.87, "ul"), (-0.42, 0.87, "ul"),
    (-0.60, 0.66, "ul"), (-0.88, 0.69, "ul"), (-0.94, 0.71, "ul"),
]
B_SII_CONTAM = [
    (-1.14, 0.73, "<"), (-1.14, 0.65, "<"), (-0.99, 0.68, "<"), (-1.38, 0.57, "<"),
    (-1.26, 0.32, "<"), (-1.09, 0.12, "<"), (-1.00, 0.05, "<"), (-0.08, 0.07, "<"),
    (0.03, 1.12, "^"), (0.03, 0.67, "^"), (0.32, 0.88, "ul"),
    (0.27, 0.36, ">"), (0.48, 0.02, ">"),
    (0.26, 0.21, "o"), (-0.07, 0.45, "o"), (-0.15, 0.17, "o"), (-0.09, 0.11, "o"),
    (-0.15, 0.06, "o"), (-0.08, -0.08, "o"), (-0.22, 0.01, "o"), (-0.11, -0.30, "o"),
    (-0.20, -0.28, "o"), (-0.29, -0.13, "o"), (-0.27, -0.05, "o"), (-1.50, 0.49, "o"),
    (-1.41, 0.48, "o"), (-1.35, 0.46, "o"), (-1.36, 0.62, "o"), (-1.31, 0.55, "o"),
    (-1.27, 0.49, "o"), (-1.24, 0.60, "o"), (-1.20, 0.61, "o"), (-1.22, 0.39, "o"),
    (-1.35, 0.36, "o"), (-1.27, 0.03, "o"), (-1.13, -0.01, "o"), (-1.09, -0.16, "o"),
    (-0.94, -0.15, "o"), (-0.79, -0.20, "o"), (-0.78, -0.27, "o"), (-0.78, -0.31, "o"),
    (-0.72, -0.47, "o"), (-0.66, -0.39, "o"), (-0.70, -0.64, "o"), (-0.56, -0.37, "o"),
    (-0.55, -0.30, "o"), (-0.50, -0.31, "o"), (-0.47, -0.33, "o"), (-0.43, -0.32, "o"),
    (-0.40, -0.31, "o"), (-0.46, -0.49, "o"), (-0.46, -0.52, "o"), (-0.61, -0.26, "o"),
    (-0.61, -0.23, "o"), (-0.71, -0.10, "o"), (-0.74, -0.13, "o"), (-0.66, -0.14, "o"),
    (-0.60, -0.17, "o"), (-0.56, -0.12, "o"), (-0.52, -0.14, "o"), (-0.50, -0.07, "o"),
    (-0.46, -0.07, "o"), (-0.58, -0.07, "o"), (-0.64, -0.04, "o"), (-0.71, -0.01, "o"),
    (-0.77, -0.01, "o"), (-0.83, 0.01, "o"), (-0.87, 0.08, "o"), (-0.91, 0.13, "o"),
    (-0.96, 0.18, "o"), (-1.00, 0.13, "o"), (-1.08, 0.13, "o"), (-1.04, 0.20, "o"),
    (-1.08, 0.25, "o"), (-1.12, 0.32, "o"), (-1.06, 0.37, "o"), (-1.00, 0.39, "o"),
    (-0.96, 0.35, "o"), (-0.92, 0.39, "o"), (-0.87, 0.37, "o"), (-0.83, 0.32, "o"),
    (-0.79, 0.27, "o"), (-0.75, 0.23, "o"), (-0.69, 0.18, "o"), (-0.62, 0.13, "o"),
    (-0.58, 0.08, "o"), (-0.54, 0.03, "o"), (-0.66, 0.06, "o"), (-0.73, 0.08, "o"),
    (-0.79, 0.13, "o"), (-0.83, 0.18, "o"), (-0.87, 0.23, "o"), (-0.92, 0.27, "o"),
    (-1.00, 0.27, "o"), (-1.04, 0.42, "o"), (-1.10, 0.47, "o"), (-1.14, 0.51, "o"),
    (-1.06, 0.51, "o"), (-1.00, 0.47, "o"), (-0.94, 0.47, "o"), (-0.87, 0.50, "o"),
    (-0.81, 0.42, "o"), (-0.77, 0.37, "o"), (-0.69, 0.27, "o"), (-0.62, 0.23, "o"),
    (-0.58, 0.23, "o"), (-0.54, 0.16, "o"), (-0.96, 0.03, "o"), (-0.87, -0.06, "o"),
    (-0.75, -0.19, "o"), (-0.69, -0.23, "o"), (-0.48, -0.21, "o"), (-0.44, -0.14, "o"),
    (-0.42, -0.07, "o"), (-0.50, 0.10, "o"), (-0.46, 0.06, "o"), (-0.29, -0.19, "o"),
    (-0.96, -0.37, "o"),
    (-0.95, 0.45, "o"), (-0.90, 0.43, "o"), (-0.85, 0.45, "o"), (-0.82, 0.36, "o"),
    (-0.78, 0.30, "o"), (-0.72, 0.26, "o"), (-0.70, 0.32, "o"), (-0.66, 0.22, "o"),
    (-0.64, 0.16, "o"), (-0.60, 0.10, "o"), (-0.68, 0.10, "o"), (-0.74, 0.14, "o"),
    (-0.80, 0.20, "o"), (-0.86, 0.28, "o"), (-0.92, 0.32, "o"), (-0.98, 0.24, "o"),
    (-1.02, 0.30, "o"), (-0.94, 0.20, "o"), (-0.88, 0.12, "o"), (-0.84, 0.06, "o"),
    (-0.76, 0.04, "o"), (-0.70, 0.02, "o"), (-0.62, -0.02, "o"), (-0.66, -0.08, "o"),
    (-0.72, -0.06, "o"), (-0.78, -0.10, "o"), (-0.84, -0.10, "o"), (-0.90, -0.02, "o"),
    (-0.54, -0.02, "o"), (-0.52, -0.18, "o"), (-0.64, -0.30, "o"), (-0.58, -0.26, "o"),
]

# typical uncertainties (x err, y err) for each panel
ERR = {
    "a_nii": (0.325, 0.126), "a_sii": (0.156, 0.126),
    "b_nii": (0.175, 0.158), "b_sii": (0.14, 0.158),
}

# Sabin+13 separating line, endpoints (x, y)
SABIN_NII = [(-0.497, 0.19), (-0.10, 2.0)]
SABIN_SII = [(-0.40, 0.30), (0.10, 2.0)]

COLORS = {"contam": "grey", "possible": "green", "likely": "blue"}
LABELS = {"likely": "Likely PN", "possible": "Possible PN", "contam": "Contaminant"}
MARKERS = {"o": "o", "<": "<", ">": ">", "^": "^", "ul": (3, 0, 45)}


def kauffmann(x):
    return 0.61 / (x - 0.05) + 1.3


def kewley(x):
    return 0.72 / (x - 0.32) + 1.30


def make_frame(likely, possible, contam):
    rows = []
    for cls, pts in (("contam", contam), ("possible", possible), ("likely", likely)):
        for x, y, m in pts:
            rows.append({"x": x, "y": y, "cls": cls, "mk": m})
    return pd.DataFrame(rows)


def panel(ax, df, err, kind, legend_loc, show_ylabel):
    # scatter points, contaminants at the bottom
    for cls in ("contam", "possible", "likely"):
        for mk in ("o", "<", ">", "^", "ul"):
            sub = df[(df["cls"] == cls) & (df["mk"] == mk)]
            if sub.empty:
                continue
            sns.scatterplot(data=sub, x="x", y="y", ax=ax, marker=MARKERS[mk],
                            color=COLORS[cls], edgecolor=COLORS[cls], linewidth=0.9,
                            alpha=0.55, s=30 if mk == "o" else 42,
                            label=LABELS[cls] if mk == "o" else None, legend=False)

    # demarcation lines
    if kind == "nii":
        xs = np.linspace(-2.0, -0.215, 200)
        ys = kauffmann(xs)
        sab = SABIN_NII
        ax.text(-1.6, 1.05, "Kauffmann+03", rotation=-10.5, ha="center", va="center",
                fontsize=11, family="DejaVu Serif")
        ax.text(-0.26, 1.6, "Sabin+13", rotation=76, ha="center", va="center",
                fontsize=11, family="DejaVu Serif")
    else:
        xs = np.linspace(-2.0, 0.007, 200)
        ys = kewley(xs)
        sab = SABIN_SII
        ax.text(-1.69, 1.05, "Kewley+01", rotation=-12, ha="center", va="center",
                fontsize=11, family="DejaVu Serif")
        ax.text(-0.10, 1.6, "Sabin+13", rotation=71, ha="center", va="center",
                fontsize=11, family="DejaVu Serif")
    ax.plot(xs, ys, color="black", linestyle="--", linewidth=1.1)
    sns.lineplot(x=[p[0] for p in sab], y=[p[1] for p in sab], ax=ax, color="black",
                 linestyle="--", linewidth=1.1)

    # typical uncertainty
    ax.errorbar(-1.5, 1.5, xerr=err[0], yerr=err[1], fmt="o", color="black",
                markersize=3.5, capsize=3.5, elinewidth=1.3, capthick=1.3,
                label="Typical uncertainty")

    ax.set_xlim(-2.0, 0.5)
    ax.set_ylim(-1.0, 2.0)
    ax.set_xticks([-2.0, -1.5, -1.0, -0.5, 0.0, 0.5])
    ax.set_yticks([-1.0, -0.5, 0.0, 0.5, 1.0, 1.5, 2.0])
    ax.xaxis.set_minor_locator(plt.MultipleLocator(0.1))
    ax.yaxis.set_minor_locator(plt.MultipleLocator(0.1))
    ax.tick_params(which="both", direction="in", top=True, right=True, labelsize=10)
    ax.tick_params(which="major", length=5)
    ax.tick_params(which="minor", length=2.5)
    for lab in ax.get_xticklabels() + ax.get_yticklabels():
        lab.set_family("Liberation Serif")

    if kind == "nii":
        ax.set_xlabel(r"log([NII] $\lambda$6584/H$\alpha$)", fontsize=11.5,
                      family="Liberation Serif", labelpad=3)
    else:
        ax.set_xlabel(r"log([SII] $\lambda\lambda$6716, 6731/H$\alpha$)", fontsize=11.5,
                      family="Liberation Serif", labelpad=3)
    if show_ylabel:
        ax.set_ylabel(r"log([OIII] $\lambda$5007/H$\beta$)", fontsize=11.5,
                      family="Liberation Serif", labelpad=2)
    else:
        ax.set_ylabel("")
        ax.tick_params(labelleft=False)

    handles, labels = ax.get_legend_handles_labels()
    order = ["Likely PN", "Possible PN", "Contaminant", "Typical uncertainty"]
    hmap = dict(zip(labels, handles))
    leg = ax.legend([hmap[k] for k in order], order, loc=legend_loc, fontsize=9.5,
                    markerscale=0.7, fancybox=False, framealpha=0.9, edgecolor="#cccccc",
                    handletextpad=1.4, borderpad=0.5, labelspacing=0.4)
    for t in leg.get_texts():
        t.set_family("DejaVu Serif")


def main():
    sns.set_style("white")
    plt.rcParams["mathtext.fontset"] = "stix"
    plt.rcParams["axes.linewidth"] = 1.0
    plt.rcParams["axes.edgecolor"] = "black"
    plt.rcParams["xtick.color"] = "black"
    plt.rcParams["ytick.color"] = "black"

    fig = plt.figure(figsize=(9.73, 10.62), dpi=100)
    ax_a1 = fig.add_axes([0.0685, 0.5515, 0.4104, 0.3927])
    ax_a2 = fig.add_axes([0.5208, 0.5515, 0.4104, 0.3927])
    ax_b1 = fig.add_axes([0.0685, 0.0687, 0.4104, 0.3929])
    ax_b2 = fig.add_axes([0.5208, 0.0687, 0.4104, 0.3929])

    panel(ax_a1, make_frame(A_NII_LIKELY, A_NII_POSSIBLE, A_NII_CONTAM), ERR["a_nii"],
          "nii", "lower right", True)
    panel(ax_a2, make_frame(A_SII_LIKELY, A_SII_POSSIBLE, A_SII_CONTAM), ERR["a_sii"],
          "sii", "lower left", False)
    panel(ax_b1, make_frame(B_NII_LIKELY, B_NII_POSSIBLE, B_NII_CONTAM), ERR["b_nii"],
          "nii", "lower right", True)
    panel(ax_b2, make_frame(B_SII_LIKELY, B_SII_POSSIBLE, B_SII_CONTAM), ERR["b_sii"],
          "sii", "lower left", False)

    # captions and running header
    fig.text(461 / 973, 1 - 536 / 1062, "(a) NGC 4214", ha="center", va="center",
             fontsize=11, family="Liberation Serif")
    fig.text(461 / 973, 1 - 1049 / 1062, "(b) NGC 4449", ha="center", va="center",
             fontsize=11, family="Liberation Serif")
    fig.text(917 / 973, 1 - 16 / 1062, "SIGNALS PNe", ha="right", va="center",
             fontsize=17, family="Liberation Serif", style="italic")
    fig.text(967 / 973, 1 - 16 / 1062, "9", ha="right", va="center",
             fontsize=17, family="Liberation Serif")

    fig.savefig("out.png", dpi=100)


if __name__ == "__main__":
    main()
